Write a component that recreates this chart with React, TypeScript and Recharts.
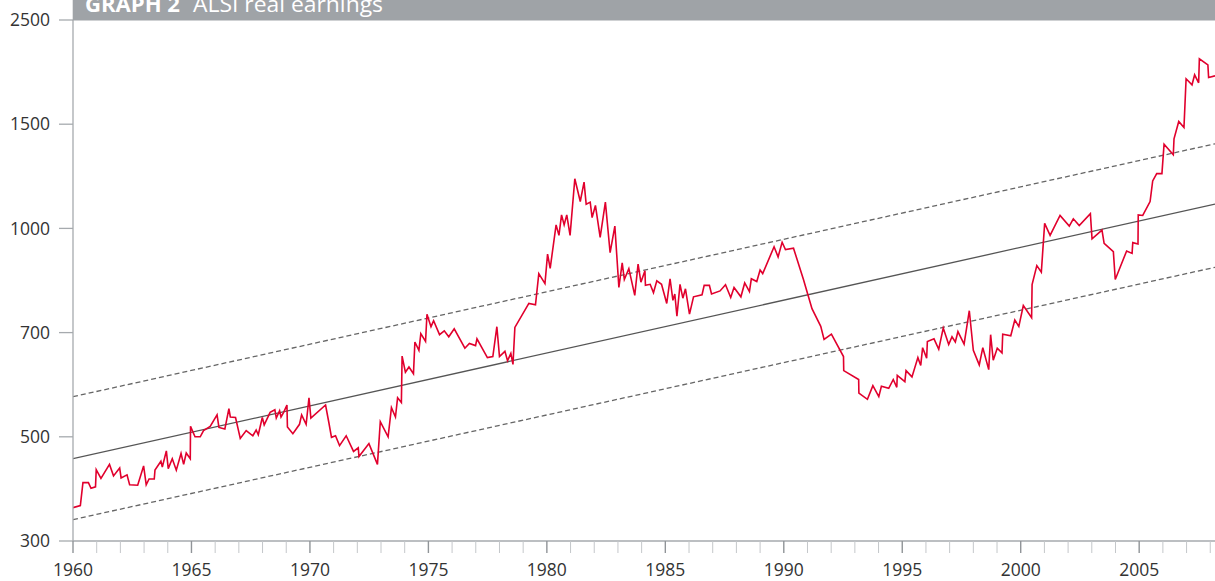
import React from 'react';
import { LineChart, Line, XAxis, YAxis } from 'recharts';

// Y axis tick labels (evenly spaced on the original chart)
const yTickLabels = [300, 500, 700, 1000, 1500, 2500];
// X axis
const xTickYears = [
  1960, 1961, 1962, 1963, 1964, 1965, 1966, 1967, 1968, 1969,
  1970, 1971, 1972, 1973, 1974, 1975, 1976, 1977, 1978, 1979,
  1980, 1981, 1982, 1983, 1984, 1985, 1986, 1987, 1988, 1989,
  1990, 1991, 1992, 1993, 1994, 1995, 1996, 1997, 1998, 1999,
  2000, 2001, 2002, 2003, 2004, 2005, 2006, 2007, 2008,
];
const xLabelYears = [1960, 1965, 1970, 1975, 1980, 1985, 1990, 1995, 2000, 2005];

// ALSI real earnings
const years = [
  1960.00, 1960.31, 1960.42, 1960.65, 1960.76, 1960.95, 1960.98, 1961.18, 1961.54, 1961.71,
  1961.97, 1962.03, 1962.28, 1962.39, 1962.73, 1962.98, 1963.09, 1963.21, 1963.43, 1963.46,
  1963.71, 1963.77, 1963.94, 1964.02, 1964.19, 1964.36, 1964.56, 1964.67, 1964.78, 1964.95,
  1964.96, 1965.15, 1965.37, 1965.51, 1965.79, 1966.08, 1966.16, 1966.41, 1966.58, 1966.64,
  1966.86, 1967.06, 1967.31, 1967.59, 1967.73, 1967.82, 1967.99, 1968.07, 1968.32, 1968.52,
  1968.58, 1968.72, 1968.78, 1968.89, 1969.03, 1969.05, 1969.28, 1969.56, 1969.65, 1969.84,
  1969.96, 1970.04, 1970.66, 1970.80, 1970.91, 1971.08, 1971.25, 1971.53, 1971.84, 1972.04,
  1972.07, 1972.49, 1972.85, 1972.97, 1973.30, 1973.44, 1973.61, 1973.70, 1973.86, 1973.89,
  1974.03, 1974.18, 1974.37, 1974.43, 1974.60, 1974.68, 1974.88, 1974.94, 1975.11, 1975.22,
  1975.47, 1975.67, 1975.86, 1976.09, 1976.54, 1976.73, 1976.99, 1977.05, 1977.49, 1977.72,
  1977.89, 1978.00, 1978.23, 1978.34, 1978.48, 1978.57, 1978.65, 1979.24, 1979.52, 1979.66,
  1979.92, 1980.03, 1980.14, 1980.39, 1980.51, 1980.62, 1980.73, 1980.84, 1980.98, 1981.18,
  1981.41, 1981.57, 1981.66, 1981.83, 1981.91, 1982.05, 1982.25, 1982.47, 1982.67, 1982.87,
  1983.04, 1983.18, 1983.27, 1983.46, 1983.71, 1983.85, 1983.97, 1984.14, 1984.16, 1984.36,
  1984.50, 1984.64, 1984.84, 1985.06, 1985.20, 1985.32, 1985.40, 1985.49, 1985.62, 1985.74,
  1985.85, 1986.02, 1986.19, 1986.55, 1986.64, 1986.86, 1986.95, 1987.31, 1987.54, 1987.76,
  1987.90, 1988.19, 1988.35, 1988.55, 1988.63, 1988.86, 1989.00, 1989.11, 1989.59, 1989.76,
  1989.93, 1990.07, 1990.41, 1990.83, 1991.19, 1991.56, 1991.70, 1992.01, 1992.52, 1992.53,
  1993.16, 1993.17, 1993.53, 1993.76, 1994.01, 1994.12, 1994.43, 1994.62, 1994.77, 1994.79,
  1995.11, 1995.16, 1995.41, 1995.66, 1995.78, 1995.86, 1996.03, 1996.06, 1996.34, 1996.54,
  1996.73, 1996.96, 1997.10, 1997.24, 1997.35, 1997.61, 1997.83, 1998.00, 1998.25, 1998.40,
  1998.65, 1998.73, 1998.84, 1999.01, 1999.21, 1999.24, 1999.58, 1999.75, 1999.92, 2000.11,
  2000.46, 2000.48, 2000.68, 2000.87, 2001.01, 2001.24, 2001.66, 2002.05, 2002.22, 2002.47,
  2002.94, 2003.01, 2003.43, 2003.52, 2003.91, 2003.99, 2004.47, 2004.70, 2004.73, 2004.95,
  2004.96, 2005.15, 2005.46, 2005.57, 2005.74, 2005.96, 2006.05, 2006.44, 2006.47, 2006.67,
  2006.89, 2006.98, 2007.23, 2007.34, 2007.51, 2007.54, 2007.90, 2007.93, 2008.20,
];
const earnings = [
  364, 368, 412, 412, 401, 404, 437, 420, 447, 425,
  440, 421, 427, 408, 407, 444, 408, 419, 419, 436,
  453, 442, 473, 439, 458, 436, 468, 447, 469, 458,
  520, 500, 500, 512, 520, 542, 518, 515, 554, 538,
  537, 497, 512, 502, 513, 504, 537, 523, 547, 552,
  536, 550, 538, 547, 561, 519, 506, 524, 542, 524,
  575, 536, 561, 527, 499, 502, 483, 502, 472, 479,
  462, 487, 447, 529, 500, 556, 538, 575, 566, 655,
  624, 634, 621, 682, 666, 698, 683, 753, 717, 734,
  696, 705, 692, 711, 670, 679, 675, 688, 652, 654,
  717, 654, 664, 646, 660, 639, 715, 784, 780, 870,
  841, 926, 885, 1017, 980, 1065, 1017, 1065, 980, 1238,
  1129, 1222, 1116, 1126, 1052, 1110, 974, 1126, 930, 1011,
  830, 901, 853, 884, 807, 897, 845, 878, 836, 839,
  815, 849, 839, 784, 855, 793, 811, 747, 839, 799,
  826, 753, 803, 809, 836, 836, 811, 820, 838, 801,
  830, 803, 843, 818, 855, 847, 880, 870, 947, 918,
  960, 939, 943, 853, 769, 718, 687, 697, 654, 627,
  610, 584, 572, 598, 577, 597, 593, 610, 595, 618,
  606, 627, 615, 652, 637, 671, 651, 683, 688, 668,
  713, 677, 692, 682, 703, 678, 763, 666, 638, 671,
  629, 696, 647, 670, 661, 697, 694, 736, 718, 778,
  743, 838, 893, 874, 1024, 980, 1062, 1011, 1046, 1014,
  1071, 970, 995, 957, 933, 853, 935, 928, 959, 955,
  1065, 1062, 1129, 1228, 1263, 1263, 1404, 1353, 1430, 1526,
  1484, 1936, 1878, 1974, 1897, 2128, 2070, 1948, 1964,
];

// Trend line and bands (end points)
const trendYears = [1960, 2008.2];
const trendCentre = [458, 1117];
const trendUpper = [577, 1406];
const trendLower = [341, 888];

const X_MIN = 1960;
const X_MAX = 2008.2;

// The original axis places its labelled values at equal distances:
// map a value onto that axis piecewise-linearly between the labels.
function toAxis(v: number): number {
  for (let i = 0; i < yTickLabels.length - 1; i++) {
    const a = yTickLabels[i];
    const b = yTickLabels[i + 1];
    if (v <= b || i === yTickLabels.length - 2) {
      return i + (v - a) / (b - a);
    }
  }
  return 0;
}

const earningsData = years.map((y, i) => ({ year: y, v: toAxis(earnings[i]) }));
const centreData = trendYears.map((y, i) => ({ year: y, v: toAxis(trendCentre[i]) }));
const upperData = trendYears.map((y, i) => ({ year: y, v: toAxis(trendUpper[i]) }));
const lowerData = trendYears.map((y, i) => ({ year: y, v: toAxis(trendLower[i]) }));
const yTicks = yTickLabels.map((_, i) => i);

const FONT = '"Open Sans", "Noto Sans", sans-serif';
const AXIS = '#a6aaae';

const XTick = (props: any) => {
  const { x, y, payload } = props;
  const v = payload.value as number;
  const major = xLabelYears.includes(v);
  return (
    <g>
      <line
        x1={x}
        x2={x}
        y1={y}
        y2={y + 12}
        stroke={major ? '#909498' : '#c4c7ca'}
        strokeWidth={major ? 1.4 : 1}
      />
      {major && (
        <text x={x} y={y + 35} textAnchor="middle" fontSize={17.5} fontFamily={FONT} fill="#333">
          {v}
        </text>
      )}
    </g>
  );
};

export default function App() {
  return (
    <div style={{ position: 'absolute', left: 0, top: 0, width: 1215, height: 581, background: '#fff' }}>
      <LineChart width={1215} height={581} margin={{ top: 20, right: 0, bottom: 0, left: 0 }}>
        <XAxis
          type="number"
          dataKey="year"
          domain={[X_MIN, X_MAX]}
          ticks={xTickYears}
          interval={0}
          allowDataOverflow
          height={40}
          tickSize={0}
          tickMargin={0}
          tickLine={false}
          axisLine={{ stroke: AXIS, strokeWidth: 1.3 }}
          tick={<XTick />}
        />
        <YAxis
          type="number"
          domain={[0, 5]}
          ticks={yTicks}
          interval={0}
          width={73}
          tickSize={14}
          tickMargin={9}
          axisLine={{ stroke: AXIS, strokeWidth: 1.3 }}
          tickLine={{ stroke: AXIS, strokeWidth: 1.3 }}
          tickFormatter={(i: number) => String(yTickLabels[i])}
          tick={{ fontSize: 17.5, fill: '#333', fontFamily: FONT }}
        />
        <Line
          data={upperData}
          dataKey="v"
          type="linear"
          stroke="#666"
          strokeWidth={1.3}
          strokeDasharray="5 3"
          dot={false}
          activeDot={false}
          isAnimationActive={false}
        />
        <Line
          data={lowerData}
          dataKey="v"
          type="linear"
          stroke="#666"
          strokeWidth={1.3}
          strokeDasharray="5 3"
          dot={false}
          activeDot={false}
          isAnimationActive={false}
        />
        <Line
          data={centreData}
          dataKey="v"
          type="linear"
          stroke="#555"
          strokeWidth={1.3}
          dot={false}
          activeDot={false}
          isAnimationActive={false}
        />
        <Line
          data={earningsData}
          dataKey="v"
          type="linear"
          stroke="#e1002d"
          strokeWidth={1.6}
          strokeLinejoin="miter"
          dot={false}
          activeDot={false}
          isAnimationActive={false}
        />
      </LineChart>
      <svg
        width={1215}
        height={22}
        style={{ position: 'absolute', left: 0, top: 0, pointerEvents: 'none' }}
      >
        <rect x={72.7} y={0} width={1215 - 72.7} height={20.5} fill="#9fa3a7" />
        <text y={12} fontSize={22} fontFamily={FONT} fill="#fff">
          <tspan x={85} fontWeight="bold" textLength={95} lengthAdjust="spacingAndGlyphs">GRAPH 2</tspan>
          <tspan x={193} textLength={190} lengthAdjust="spacingAndGlyphs">ALSI real earnings</tspan>
        </text>
      </svg>
    </div>
  );
}
